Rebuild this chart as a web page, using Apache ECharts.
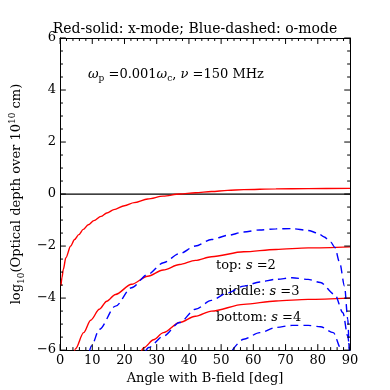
<!DOCTYPE html>
<html>
<head>
<meta charset="utf-8">
<script src="https://cdn.jsdelivr.net/npm/echarts@6/dist/echarts.min.js"></script>
<style>
  html, body { margin: 0; padding: 0; background: #fff; }
  #chart { width: 390px; height: 390px; }
</style>
</head>
<body>
<div id="chart"></div>
<script>
// x-mode (red, solid)
const redTopDeg = [0.3, 0.6, 1.0, 1.8, 3.3, 4.5, 5.8, 7.2, 8.75, 10.5, 12.7, 14.5, 16.7, 20, 23, 27.2, 32, 37.1, 42, 47, 52, 57, 67, 77, 90]
const redTopVal = [-3.52, -3.2, -2.9, -2.45, -2.0, -1.75, -1.56, -1.36, -1.18, -1.02, -0.86, -0.73, -0.6, -0.45, -0.33, -0.19, -0.08, 0.0, 0.05, 0.10, 0.14, 0.17, 0.20, 0.21, 0.22]
const redMidDeg = [4.0, 4.8, 7.3, 9.5, 12.2, 14.5, 17.2, 22.2, 27.2, 32, 37.1, 42, 47, 57, 67, 77, 90]
const redMidVal = [-6.3, -5.95, -5.33, -4.85, -4.43, -4.12, -3.86, -3.47, -3.16, -2.92, -2.71, -2.55, -2.41, -2.22, -2.13, -2.07, -2.03]
const redBotDeg = [25.0, 26.1, 29, 32.1, 37.1, 42, 47, 57, 67, 77, 90]
const redBotVal = [-6.1, -5.9, -5.6, -5.33, -4.94, -4.7, -4.5, -4.24, -4.11, -4.05, -4.0]

// o-mode (blue, dashed)
const blueTopDeg = [9.0, 9.75, 12.2, 17.2, 22.2, 27.2, 32.1, 37.1, 42, 47, 52, 57, 62, 67, 72, 77, 80, 82, 84, 85.3, 86.8, 88.3, 89.3, 89.8, 90]
const blueTopVal = [-6.1, -5.84, -5.2, -4.31, -3.6, -3.09, -2.64, -2.29, -2.0, -1.75, -1.59, -1.46, -1.38, -1.34, -1.33, -1.40, -1.50, -1.65, -1.85, -2.05, -2.64, -3.54, -4.8, -6.0, -6.5]
const blueMidDeg = [26.5, 27.5, 32.1, 37.1, 42, 47, 52, 57, 62, 67, 72, 77, 80.8, 85.3, 87.8, 89.3, 89.9]
const blueMidVal = [-6.05, -5.9, -5.46, -4.94, -4.43, -4.09, -3.8, -3.54, -3.38, -3.28, -3.22, -3.28, -3.40, -3.86, -4.56, -5.46, -6.1]
const blueBotDeg = [53.5, 57, 62, 67, 72, 77, 80.8, 84.8, 87.3, 87.6]
const blueBotVal = [-6.0, -5.58, -5.33, -5.13, -5.05, -5.05, -5.1, -5.33, -5.97, -6.1]

const zeroDeg = [0, 90]
const zeroVal = [0, 0]

// axis ranges / tick steps
const xMin = 0, xMax = 90, xMajor = 10, xMinor = 2
const yMin = -6, yMax = 6, yMajor = 2, yMinor = 0.5

const serif = 'DejaVu Serif'
const W = 390, H = 390
const gridBox = { left: 49, right: 40, top: 38, bottom: 39 }

const pairs = (xs, ys) => xs.map((x, i) => [x, ys[i]])

function curve(xs, ys, color, dashed) {
  return {
    type: 'line',
    data: pairs(xs, ys),
    showSymbol: false,
    smooth: 0.3,
    smoothMonotone: 'x',
    clip: true,
    silent: true,
    lineStyle: { color: color, width: 1.4, type: dashed ? [8, 5] : 'solid' }
  }
}

function frame(min, max, step, extra) {
  return Object.assign({
    type: 'value',
    min: min,
    max: max,
    interval: step,
    axisLine: { show: true, onZero: false, lineStyle: { color: '#000', width: 1 } },
    axisTick: { show: false },
    splitLine: { show: false },
    axisLabel: { show: false }
  }, extra)
}

// inward ticks on all four sides. the built-in inside ticks never drew here,
// so they are plain line segments (broken by '-' gaps) on the same axes.
// tick length is given in px and turned into axis units
const pxPerX = (W - gridBox.left - gridBox.right) / (xMax - xMin)
const pxPerY = (H - gridBox.top - gridBox.bottom) / (yMax - yMin)
const gap = ['-', '-']
const tickData = []
for (let i = 0; i <= Math.round((xMax - xMin) / xMinor); i++) {
  const v = xMin + i * xMinor
  const ly = (v % xMajor === 0 ? 6 : 3) / pxPerY
  tickData.push([v, yMin], [v, yMin + ly], gap, [v, yMax], [v, yMax - ly], gap)
}
for (let i = 0; i <= Math.round((yMax - yMin) / yMinor); i++) {
  const v = yMin + i * yMinor
  const lx = (Math.abs(v % yMajor) < 1e-9 ? 6 : 3) / pxPerX
  tickData.push([xMin, v], [xMin + lx, v], gap, [xMax, v], [xMax - lx, v], gap)
}

const minusFmt = v => String(v).replace('-', '\u2212')

function annRich(size) {
  return {
    n: { fontFamily: serif, fontSize: size, fill: '#000', lineHeight: 18, verticalAlign: 'middle' },
    i: { fontFamily: serif, fontSize: size, fontStyle: 'italic', fill: '#000', lineHeight: 18, verticalAlign: 'middle' },
    s: { fontFamily: serif, fontSize: size - 4, fill: '#000', lineHeight: 18, verticalAlign: 'bottom' }
  }
}

const chart = echarts.init(document.getElementById('chart'))
chart.setOption({
  animation: false,
  backgroundColor: '#fff',
  title: {
    text: 'Red-solid: x-mode; Blue-dashed: o-mode',
    left: 'center',
    top: 17,
    textStyle: { fontFamily: serif, fontSize: 14, fontWeight: 'normal', color: '#000' }
  },
  grid: gridBox,
  xAxis: [
    frame(xMin, xMax, xMajor, {
      position: 'bottom',
      axisLabel: { show: true, fontFamily: serif, fontSize: 13, color: '#000', margin: 4 },
      name: 'Angle with B-field [deg]',
      nameLocation: 'middle', nameGap: 21,
      nameTextStyle: { fontFamily: serif, fontSize: 13, color: '#000' }
    }),
    frame(xMin, xMax, xMajor, { position: 'top' })
  ],
  yAxis: [
    frame(yMin, yMax, yMajor, {
      position: 'left',
      axisLabel: { show: true, fontFamily: serif, fontSize: 13, color: '#000', margin: 4, formatter: minusFmt },
      name: 'log{sub|10}(Optical depth over 10{sup|10} cm)',
      nameLocation: 'middle', nameGap: 29, nameRotate: 90,
      nameTextStyle: {
        fontFamily: serif, fontSize: 13, color: '#000', lineHeight: 18,
        rich: {
          sub: { fontFamily: serif, fontSize: 9, color: '#000', verticalAlign: 'bottom', lineHeight: 18 },
          sup: { fontFamily: serif, fontSize: 9, color: '#000', verticalAlign: 'top', lineHeight: 18 }
        }
      }
    }),
    frame(yMin, yMax, yMajor, { position: 'right' })
  ],
  graphic: [
    {
      type: 'text', left: 88, top: 68,
      style: {
        text: '{i|\u03c9}{s|p}{n| =0.001}{i|\u03c9}{s|c}{n|, }{i|\u03bd}{n| =150 MHz}',
        rich: annRich(13)
      }
    },
    { type: 'text', left: 216, top: 259, style: { text: '{n|top: }{i|s}{n| =2}', rich: annRich(13) } },
    { type: 'text', left: 216, top: 285, style: { text: '{n|middle: }{i|s}{n| =3}', rich: annRich(13) } },
    { type: 'text', left: 216, top: 311, style: { text: '{n|bottom: }{i|s}{n| =4}', rich: annRich(13) } }
  ],
  series: [
    Object.assign(curve(zeroDeg, zeroVal, '#000', false), { smooth: false, lineStyle: { color: '#000', width: 1.2 } }),
    curve(redTopDeg, redTopVal, '#ff0000', false),
    curve(redMidDeg, redMidVal, '#ff0000', false),
    curve(redBotDeg, redBotVal, '#ff0000', false),
    curve(blueTopDeg, blueTopVal, '#0000ff', true),
    curve(blueMidDeg, blueMidVal, '#0000ff', true),
    curve(blueBotDeg, blueBotVal, '#0000ff', true),
    {
      type: 'line',
      data: tickData,
      showSymbol: false,
      connectNulls: false,
      clip: false,
      silent: true,
      z: 5,
      lineStyle: { color: '#000', width: 1 }
    }
  ]
})
</script>
</body>
</html>
